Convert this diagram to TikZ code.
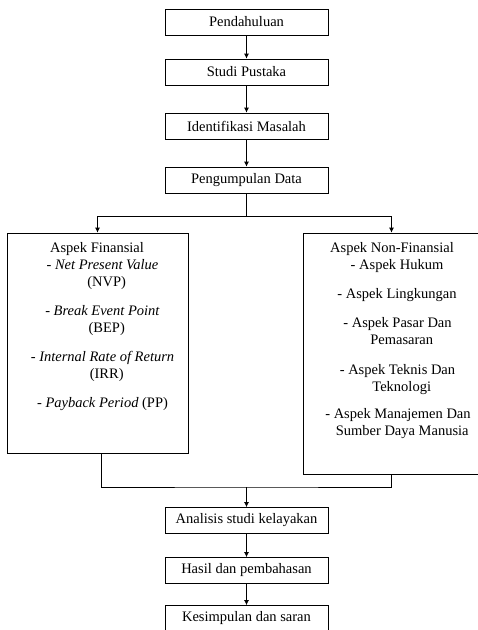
\documentclass[tikz,border=0pt]{standalone}
\usepackage{fontspec}
\setmainfont{Liberation Serif}
\usepackage{tikz}
\usetikzlibrary{positioning, arrows.meta}

\begin{document}
\begin{tikzpicture}[x=1pt, y=-1pt, font=\fontsize{14.5}{17}\selectfont,
        box/.style={draw, line width=0.8pt, minimum width=163pt, minimum height=26pt, inner sep=0pt},
        bigbox/.style={draw, line width=0.8pt, inner sep=0pt},
        txt/.style={anchor=base, inner sep=0pt},
        arr/.style={line width=0.8pt, -{Latex[length=5pt, width=5pt]}}]
        \path[use as bounding box, clip] (0,0) rectangle (478,630);

        % Top chain
        \node[box] (pend) at (246.5,22) {Pendahuluan};
        \node[box] (studi) at (246.5,72) {Studi Pustaka};
        \node[box] (ident) at (246.5,126) {Identifikasi Masalah};
        \node[box] (data) at (246.5,180) {Pengumpulan Data};

        \draw[arr] (pend) -- (studi);
        \draw[arr] (studi) -- (ident);
        \draw[arr] (ident) -- (data);

        % Two aspect boxes
        \node[bigbox, minimum width=181pt, minimum height=220pt] (finbox) at (97.5,343) {};
        \node[bigbox, minimum width=177pt, minimum height=241pt] (nonbox) at (391.5,353.5) {};

        \coordinate (split) at (246.5,216);
        \draw[line width=0.8pt] (data) -- (split);
        \draw[arr] (split) -| (finbox.north);
        \draw[arr] (split) -| (nonbox.north);

        % Financial aspects
        \node[txt] (fin) at (97,252) {Aspek Finansial};
        \node[txt] (npv) at (102.5,269) {- \begin{tabular}[t]{@{}c@{}}\textit{Net Present Value}\\(NVP)\end{tabular}};
        \node[txt] (bep) at (102.5,315) {- \begin{tabular}[t]{@{}c@{}}\textit{Break Event Point}\\(BEP)\end{tabular}};
        \node[txt] (irr) at (102.5,361) {- \begin{tabular}[t]{@{}c@{}}\textit{Internal Rate of Return}\\(IRR)\end{tabular}};
        \node[txt] (pp) at (102.5,407) {- \textit{Payback Period} (PP)};

        % Non-financial aspects
        \node[txt] (non) at (392,252) {Aspek Non-Finansial};
        \node[txt] (hukum) at (397,269) {- Aspek Hukum};
        \node[txt] (ling) at (397,298) {- Aspek Lingkungan};
        \node[txt] (pasar) at (397.5,327) {- \begin{tabular}[t]{@{}c@{}}Aspek Pasar Dan\\Pemasaran\end{tabular}};
        \node[txt] (teknis) at (397.5,374) {- \begin{tabular}[t]{@{}c@{}}Aspek Teknis Dan\\Teknologi\end{tabular}};
        \node[txt] (sdm) at (398,418) {- \begin{tabular}[t]{@{}c@{}}Aspek Manajemen Dan\\Sumber Daya Manusia\end{tabular}};

        % Bottom chain
        \node[box] (anal) at (246.5,520.5) {Analisis studi kelayakan};
        \node[box] (hasil) at (246.5,570.5) {Hasil dan pembahasan};
        \node[box] (simpul) at (246.5,618.5) {Kesimpulan dan saran};

        \coordinate (join) at (246.5,487);
        \draw[line width=0.8pt] ([xshift=3.5pt]finbox.south) |- (join) -| (nonbox.south);
        \draw[arr] (join) -- (anal);
        \draw[arr] (anal) -- (hasil);
        \draw[arr] (hasil) -- (simpul);
    \end{tikzpicture}
\end{document}
